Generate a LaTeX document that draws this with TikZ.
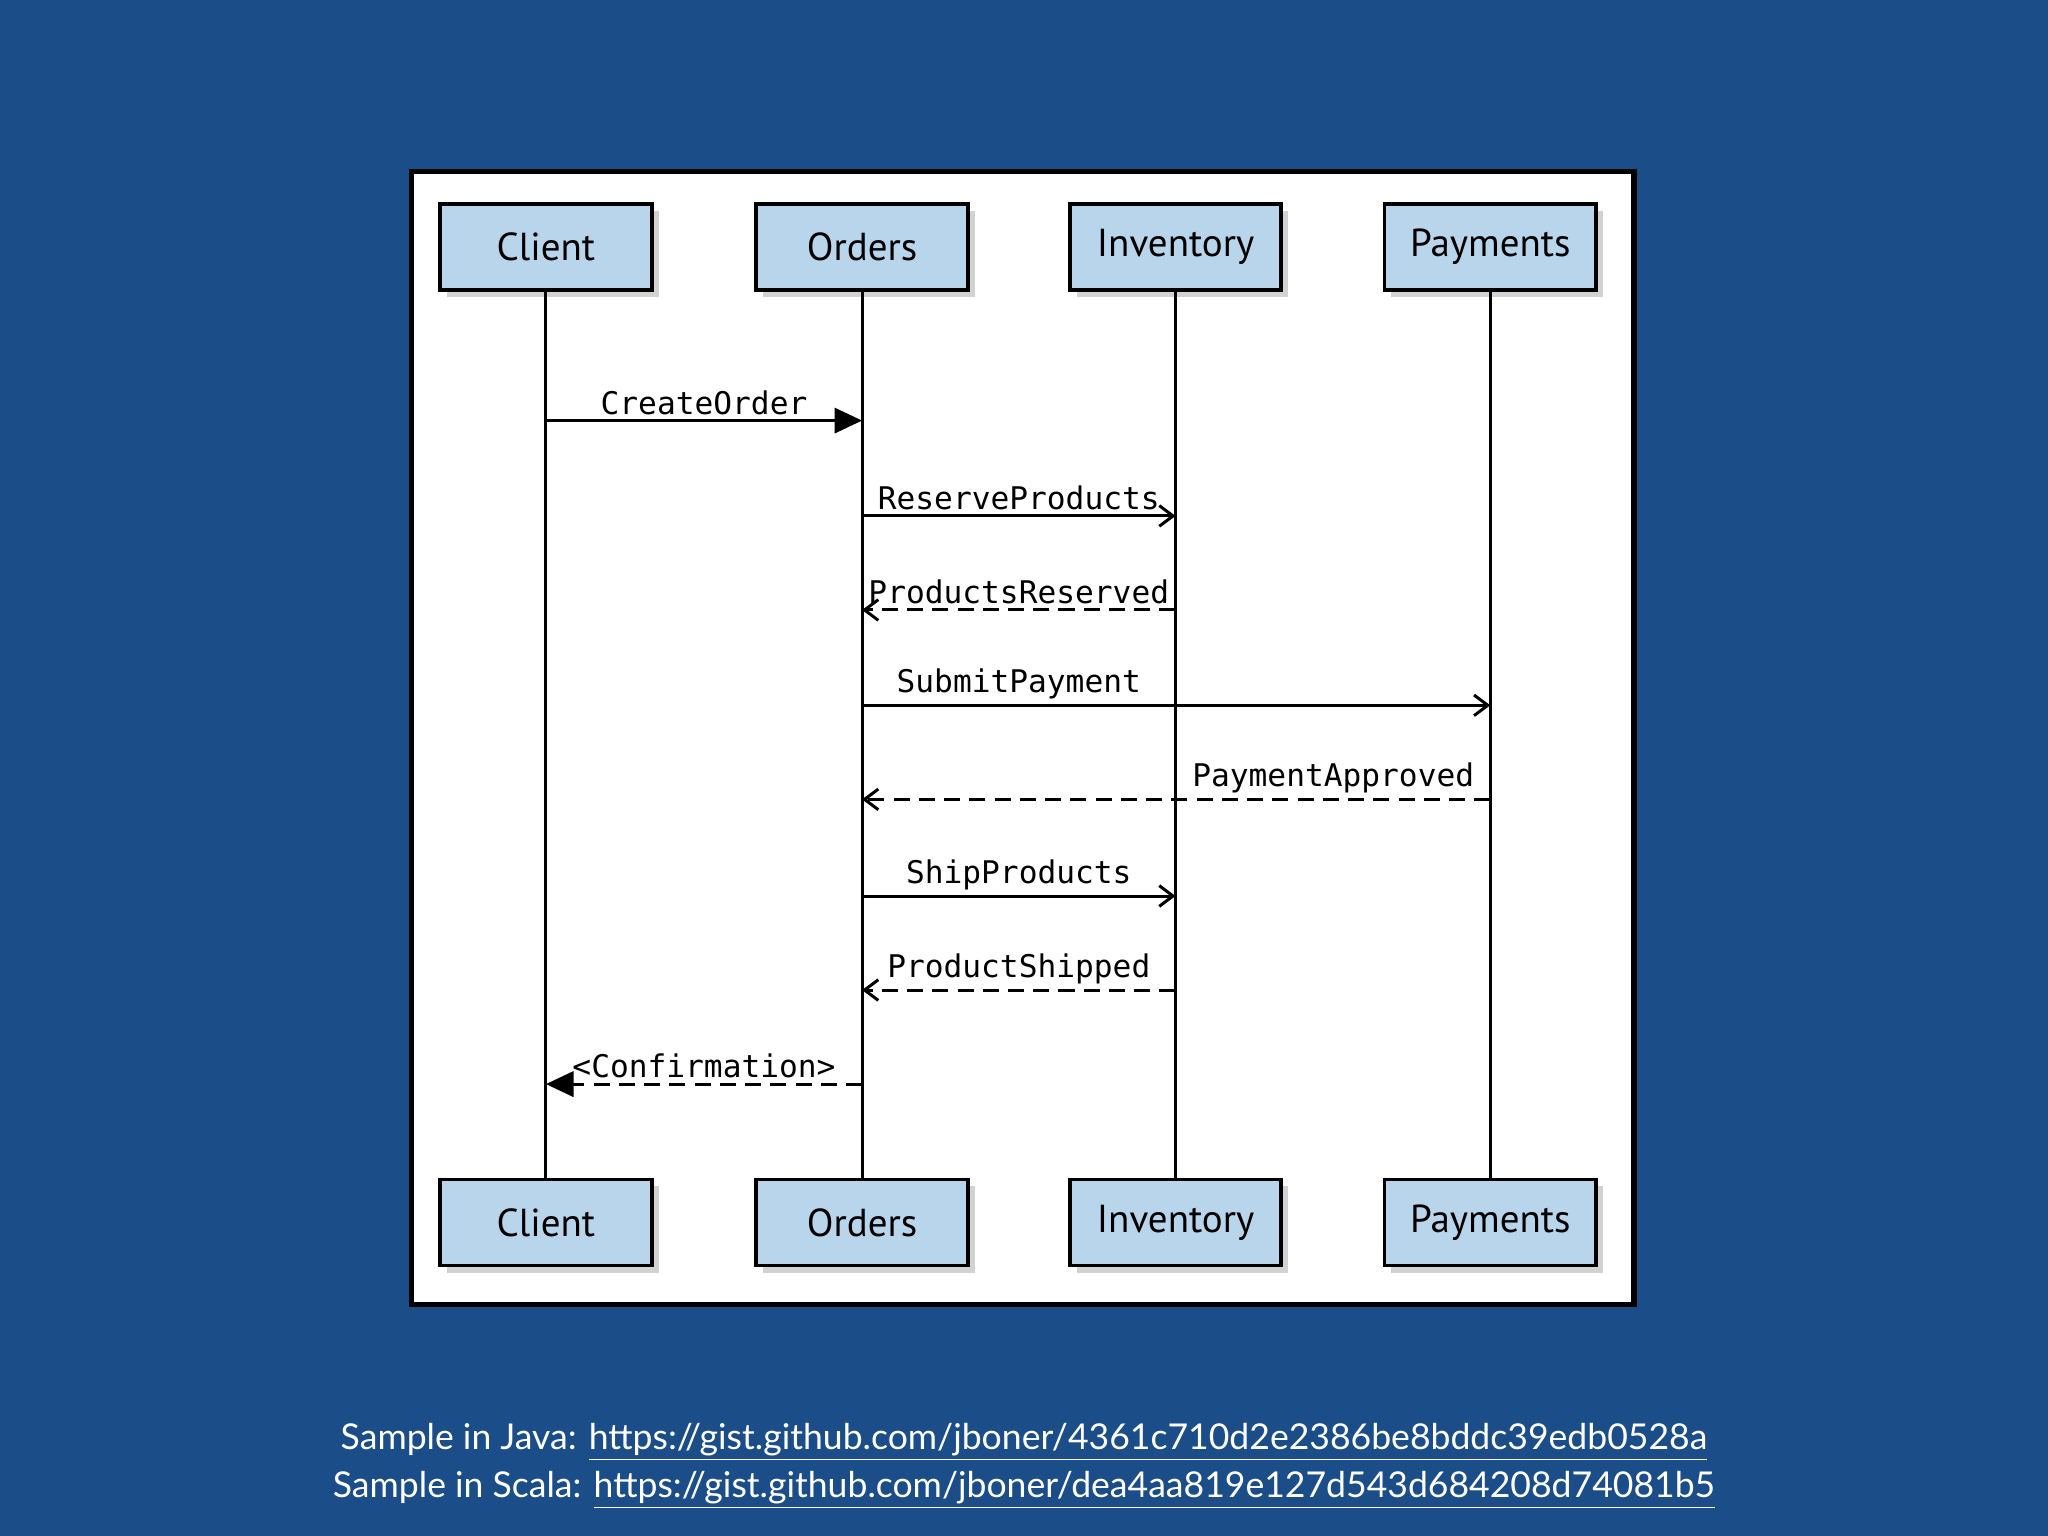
\documentclass[tikz,border=0pt]{standalone}
\usepackage{fontspec}
\setmainfont{Lato}
\newfontfamily\monof{DejaVu Sans Mono}
\newfontfamily\boxf{PT Sans}
\usetikzlibrary{arrows.meta,shadows}
\definecolor{bgblue}{HTML}{1B4E89}
\definecolor{boxblue}{HTML}{B8D5EB}
\begin{document}
\begin{tikzpicture}[x=0.02cm,y=-0.02cm,
  actor/.style={draw=black,line width=1.6pt,fill=boxblue,minimum width=3.24cm,minimum height=1.32cm,inner sep=0pt,
    font=\boxf\fontsize{17}{20}\selectfont,drop shadow={shadow xshift=3pt,shadow yshift=-3pt,opacity=0.35}},
  life/.style={line width=1.3pt},
  msg/.style={line width=1.3pt,-{Straight Barb[length=6pt,width=9pt]}},
  reply/.style={msg,dash pattern=on 7pt off 4pt},
  lbl/.style={font=\monof\fontsize{13.6}{16}\selectfont,above,inner sep=2pt},
  link/.style={font=\fontsize{15.5}{18}\selectfont,text=white}]
\fill[bgblue] (0,0) rectangle (1568,1176);
\useasboundingbox (0,0) rectangle (1568,1176);
\draw[fill=white,line width=2.2pt] (315,131) rectangle (1251,999);
\foreach \n/\x/\t in {c/418/Client,o/660/Orders,i/900/Inventory,p/1141/Payments}{
  \node[actor] (\n t) at (\x,189) {\t};
  \node[actor] (\n b) at (\x,936) {\t};
  \draw[life] (\n t) -- (\n b);
}
\coordinate (c1) at (418,322); \coordinate (o1) at (660,322);
\coordinate (o2) at (660,395); \coordinate (i2) at (900,395);
\coordinate (o3) at (660,467); \coordinate (i3) at (900,467);
\coordinate (o4) at (660,540); \coordinate (p4) at (1141,540);
\coordinate (o5) at (660,612); \coordinate (p5) at (1141,612);
\coordinate (o6) at (660,686); \coordinate (i6) at (900,686);
\coordinate (o7) at (660,758); \coordinate (i7) at (900,758);
\coordinate (o8) at (660,830); \coordinate (c8) at (418,830);
\draw[line width=1.3pt,-{Triangle[length=12pt,width=11pt]}] (c1) -- node[lbl]{CreateOrder} (o1);
\draw[msg] (o2) -- node[lbl]{ReserveProducts} (i2);
\draw[reply] (i3) -- node[lbl]{ProductsReserved} (o3);
\draw[msg] (o4) -- node[lbl]{SubmitPayment} (i2|-o4) -- (p4);
\draw[reply] (p5) -- node[lbl,pos=0.25]{PaymentApproved} (o5);
\draw[msg] (o6) -- node[lbl]{ShipProducts} (i6);
\draw[reply] (i7) -- node[lbl]{ProductShipped} (o7);
\draw[line width=1.3pt,dash pattern=on 7pt off 4pt,-{Triangle[length=12pt,width=11pt]}] (o8) -- node[lbl]{<Confirmation>} (c8);
\node[link] (l1) at (784,1104) {Sample in Java: \underline{https://gist.github.com/jboner/4361c710d2e2386be8bddc39edb0528a}};
\node[link] (l2) at (784,1141) {Sample in Scala: \underline{https://gist.github.com/jboner/dea4aa819e127d543d684208d74081b5}};
\end{tikzpicture}
\end{document}
